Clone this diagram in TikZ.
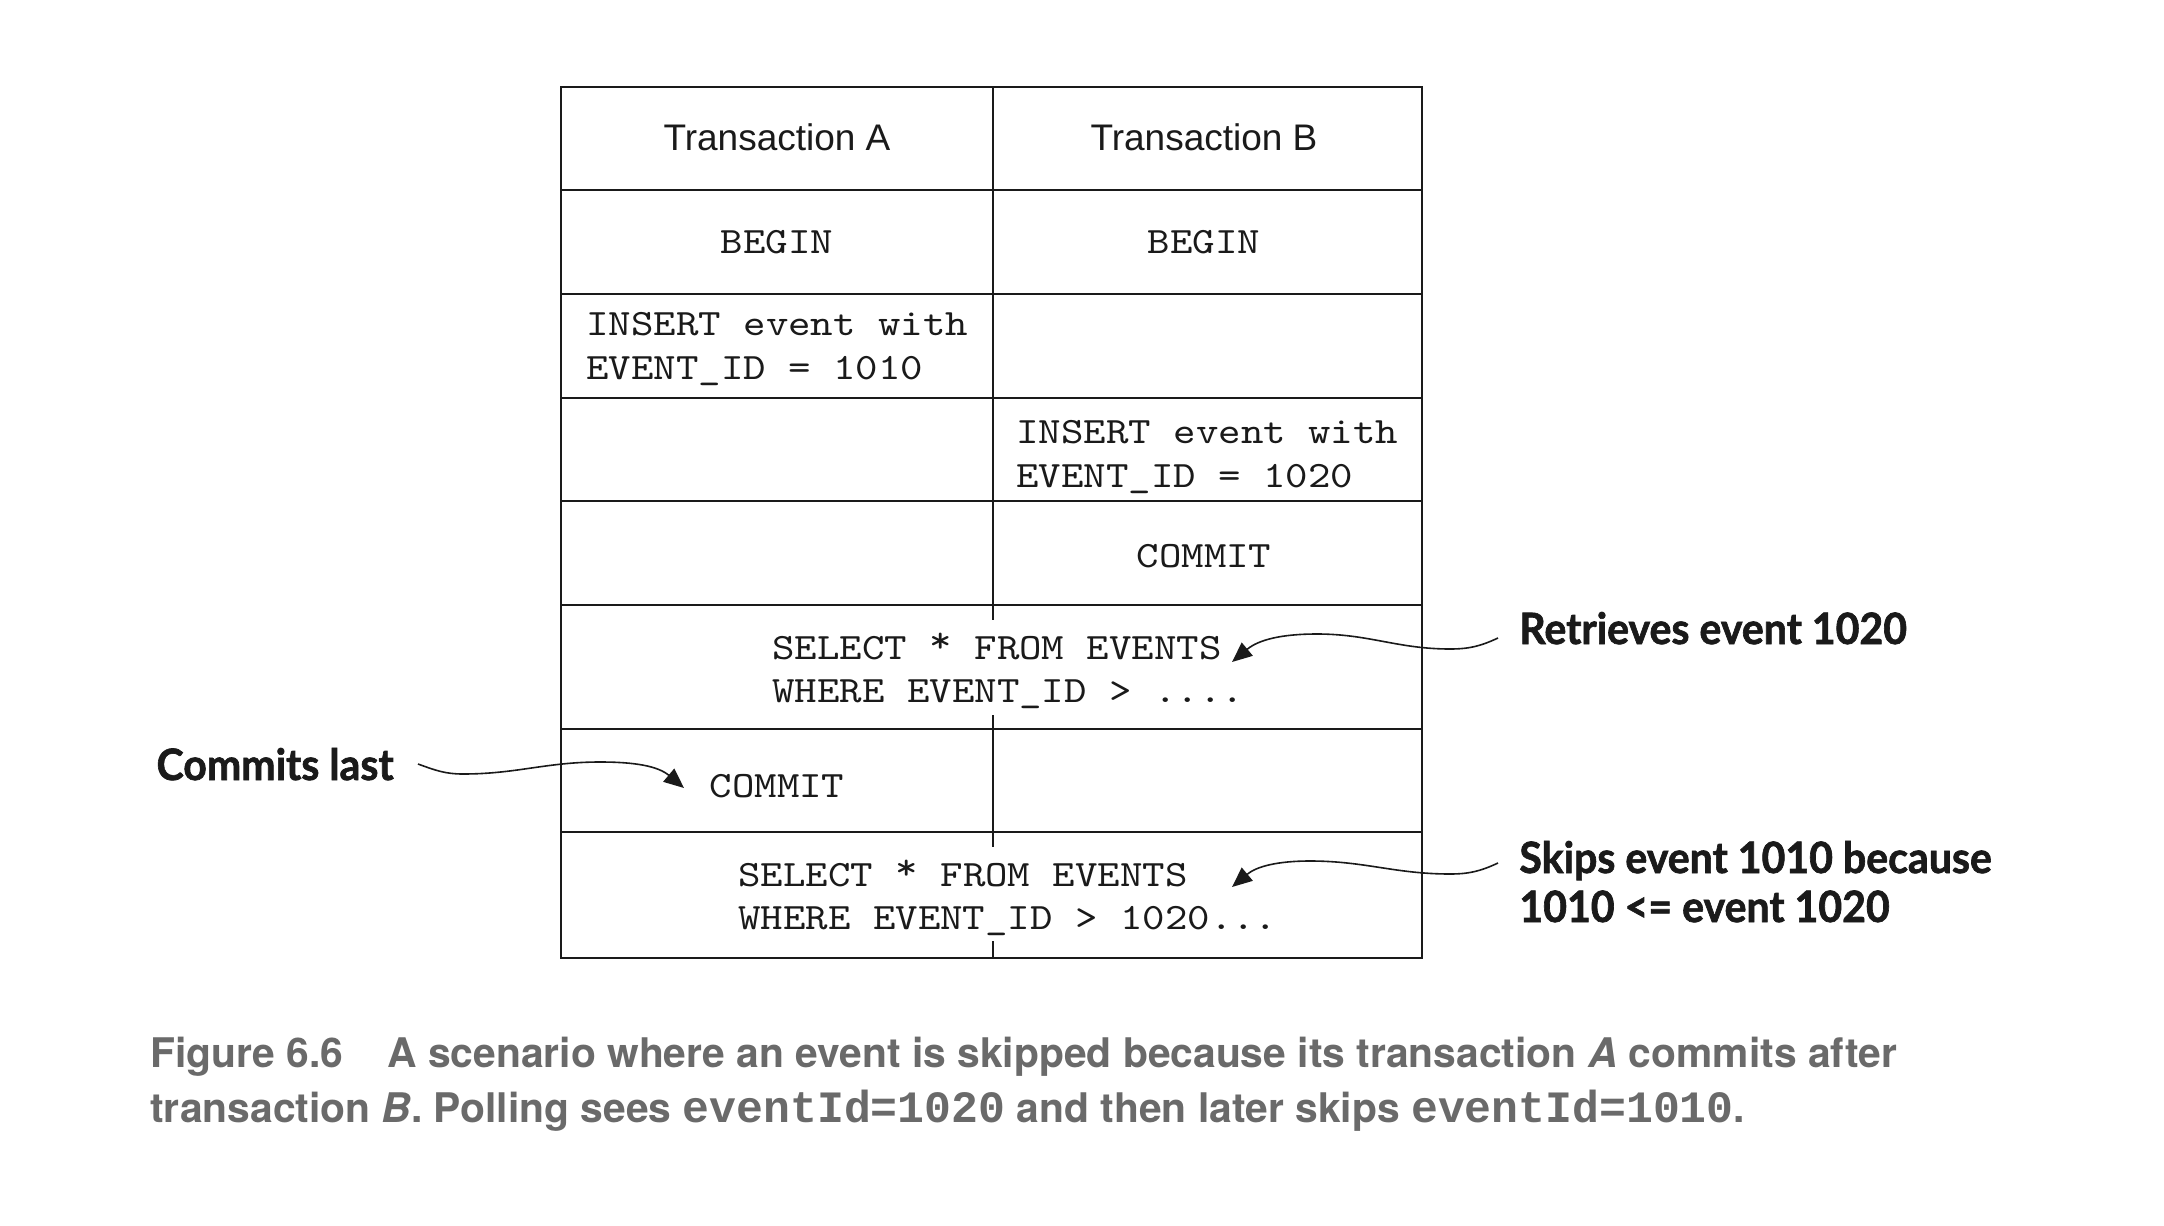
\documentclass[tikz,border=0pt]{standalone}
\usepackage{fontspec}
\setmainfont{Liberation Sans}
\newfontfamily\tabmono[FakeStretch=1.15]{lmmono10-regular.otf}
\newfontfamily\annfont[FakeStretch=0.95,BoldFeatures={FakeBold=1.5}]{Lato}
\newfontfamily\capfont{TeX Gyre Heros}
\newfontfamily\capmono{Liberation Mono}
\usetikzlibrary{arrows.meta,calc}
\definecolor{capgray}{HTML}{6A6A6A}
\definecolor{ink}{HTML}{1A1A1A}
\newcommand\upstar{\raisebox{0.18em}{*}}
\begin{document}
\begin{tikzpicture}[x=0.5pt,y=-0.5pt,
  grid/.style={draw=ink,line width=1.4pt},
  hdr/.style={font=\fontsize{18.5}{22}\selectfont,inner sep=0pt,text=ink},
  cell/.style={font=\tabmono\fontsize{18.6}{21.85}\selectfont,inner sep=0pt,align=left,text=ink},
  ann/.style={font=\annfont\bfseries\fontsize{21.6}{21}\selectfont,inner sep=0pt,anchor=base west,text=ink},
  captext/.style={font=\capfont\bfseries\fontsize{20.4}{27.5}\selectfont,text=capgray,inner sep=0pt,anchor=base west},
  callout/.style={draw=ink,line width=0.8pt,-{Triangle[length=10pt,width=8.5pt]}}]
\useasboundingbox (0,0) rectangle (2164,1226);
\fill[white] (0,0) rectangle (2164,1226);
% table grid
\draw[grid] (561,87) rectangle (1422,958);
\foreach \yy in {190,294,398,501,605,729,832}
  \draw[grid] (561,\yy) -- (1422,\yy);
\draw[grid] (993,87) -- (993,605);
\draw[grid] (993,605) -- (993,620);
\draw[grid] (993,715) -- (993,847);
\draw[grid] (993,941) -- (993,958);
% cell texts
\node[hdr] (hA) at (777,137) {Transaction A};
\node[hdr] (hB) at (1204,137) {Transaction B};
\node[cell] (bA) at (777,242) {BEGIN};
\node[cell] (bB) at (1204,242) {BEGIN};
\node[cell,anchor=west] (insA) at (586,349) {INSERT event with\\EVENT\_ID = 1010};
\node[cell,anchor=west] (insB) at (1016,457) {INSERT event with\\EVENT\_ID = 1020};
\node[cell] (comB) at (1204,556) {COMMIT};
\node[cell,anchor=west] (sel1) at (772,671) {SELECT \upstar{} FROM EVENTS\\WHERE EVENT\_ID > ....};
\node[cell] (comA) at (777,786) {COMMIT};
\node[cell,anchor=west] (sel2) at (738,898) {SELECT \upstar{} FROM EVENTS\\WHERE EVENT\_ID > 1020...};
% annotations
\node[ann] (ret) at (1519,644) {Retrieves event 1020};
\node[ann] (skip1) at (1519,873) {Skips event 1010 because};
\node[ann] (skip2) at (1519,922) {1010 <= event 1020};
\node[ann,anchor=base east] (last) at (394,780) {Commits last};
\coordinate (tip1) at (1232,662);
\coordinate (tip2) at (1232,887);
\coordinate (tip3) at (684,788);
\draw[callout] ([shift={(-21,-6)}]ret.base west) to[out=205,in=0] (1450,649)
  to[out=180,in=0] (1317,634) to[out=180,in=40] (tip1);
\draw[callout] ([shift={(-21,-10)}]skip1.base west) to[out=205,in=0] (1450,874)
  to[out=180,in=0] (1310,861) to[out=180,in=40] (tip2);
\draw[callout] ([shift={(24,-16)}]last.base east) to[out=-20,in=180] (463,774)
  to[out=0,in=180] (600,762) to[out=0,in=140] (tip3);
% caption
\node[captext] (cap1) at (150,1067) {Figure 6.6\hspace{22pt}A scenario where an event is skipped because its transaction \textit{A} commits after};
\node[captext] (cap2) at (150,1122) {transaction \textit{B}. Polling sees {\capmono\bfseries\fontsize{22.4}{27.5}\selectfont eventId=1020} and then later skips {\capmono\bfseries\fontsize{22.4}{27.5}\selectfont eventId=1010}.};
\end{tikzpicture}
\end{document}
